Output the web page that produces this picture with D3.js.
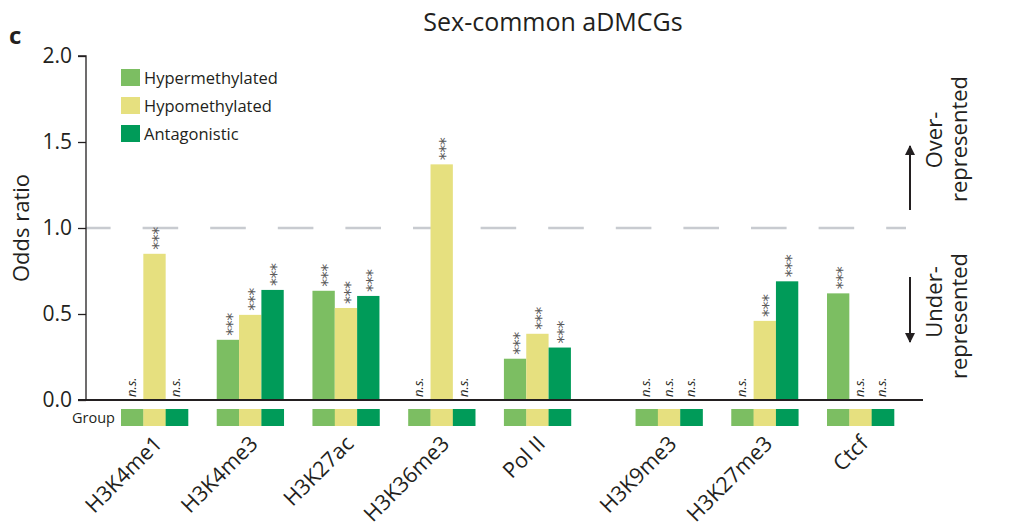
<!DOCTYPE html>
<html>
<head>
<meta charset="utf-8">
<script src="https://cdn.jsdelivr.net/npm/d3@7"></script>
<style>
  html, body { margin: 0; padding: 0; background: #fff; }
  svg { display: block; font-family: "Open Sans", "Noto Sans", sans-serif; }
</style>
</head>
<body>
<svg id="chart" width="1025" height="527"></svg>
<script>
// ---------------- data ----------------
const categories = ["H3K4me1", "H3K4me3", "H3K27ac", "H3K36me3", "Pol II", "H3K9me3", "H3K27me3", "Ctcf"];
const seriesNames = ["Hypermethylated", "Hypomethylated", "Antagonistic"];
// odds ratios (null = n.s., drawn as no bar)
const hyperValues = [null, 0.35, 0.635, null, 0.24, null, null, 0.62];
const hypoValues  = [0.85, 0.495, 0.535, 1.37, 0.385, null, 0.46, null];
const antaValues  = [null, 0.64, 0.605, null, 0.305, null, 0.69, null];
// significance labels
const hyperSig = ["n.s.", "***", "***", "n.s.", "***", "n.s.", "n.s.", "***"];
const hypoSig  = ["***", "***", "***", "***", "***", "n.s.", "***", "n.s."];
const antaSig  = ["n.s.", "***", "***", "n.s.", "***", "n.s.", "***", "n.s."];
const yTicks = [0.0, 0.5, 1.0, 1.5, 2.0];
const referenceLine = 1.0;
const titleText = "Sex-common aDMCGs";
const yLabelText = "Odds ratio";
const panelLetter = "c";
const groupLabel = "Group";

// ---------------- layout ----------------
const colors = { "Hypermethylated": "#7cbe62", "Hypomethylated": "#e6e07f", "Antagonistic": "#009b59" };
const ink = "#231f20";
const svg = d3.select("#chart");

const gapAfter = 4;        // extra gap after "Pol II"
const gapSize = 0.375;
const slot = i => i + (i > gapAfter ? gapSize : 0);

const x = d3.scaleLinear().domain([0, slot(categories.length - 1)]).range([154.5, 860.5]);
const sub = d3.scaleBand().domain(seriesNames).range([-33.5, 33.5]).padding(0);
const y = d3.scaleLinear().domain([0, 2]).range([400, 56]);

const seriesData = [
  { name: "Hypermethylated", values: hyperValues, sig: hyperSig },
  { name: "Hypomethylated", values: hypoValues, sig: hypoSig },
  { name: "Antagonistic", values: antaValues, sig: antaSig }
];

// dashed reference line
svg.append("line")
  .attr("x1", 86).attr("x2", 906)
  .attr("y1", y(referenceLine)).attr("y2", y(referenceLine))
  .attr("stroke", "#c8cbd0").attr("stroke-width", 2.6)
  .attr("stroke-dasharray", "35.6,32").attr("stroke-dashoffset", 11);

// bars
const bw = sub.bandwidth();
seriesData.forEach(s => {
  const g = svg.append("g");
  categories.forEach((c, i) => {
    const v = s.values[i];
    const bx = x(slot(i)) + sub(s.name);
    const cx = bx + bw / 2;
    if (v != null) {
      g.append("rect")
        .attr("x", bx).attr("width", bw)
        .attr("y", y(v)).attr("height", y(0) - y(v))
        .attr("fill", colors[s.name]);
    }
    const lab = s.sig[i];
    if (lab === "***") {
      g.append("text")
        .attr("transform", `translate(${cx},${y(v || 0) - 4}) rotate(-90)`)
        .attr("dy", "0.6em")
        .attr("font-size", 16)
        .attr("letter-spacing", -0.5)
        .attr("fill", "#5a5a5a")
        .attr("font-family", "DejaVu Sans")
        .text("***");
    } else {
      g.append("text")
        .attr("transform", `translate(${cx + 3.5},${y(0) - 3}) rotate(-90)`)
        .attr("font-size", 13)
        .attr("font-style", "italic")
        .attr("fill", ink)
        .text("n.s.");
    }
    // group colour strip
    svg.append("rect")
      .attr("x", bx).attr("width", bw + 0.3)
      .attr("y", 409).attr("height", 17)
      .attr("fill", colors[s.name]);
  });
});

// baseline
svg.append("line")
  .attr("x1", 78).attr("x2", 923)
  .attr("y1", y(0)).attr("y2", y(0))
  .attr("stroke", ink).attr("stroke-width", 2.2);

// y axis
const yAxis = d3.axisLeft(y).tickValues(yTicks).tickFormat(d3.format(".1f")).tickSize(8).tickPadding(6);
const ya = svg.append("g").attr("transform", "translate(86,0)").call(yAxis);
ya.select(".domain").attr("stroke", ink).attr("stroke-width", 1.3).attr("d", `M-8,${y(2)}H0V${y(0)}`);
ya.selectAll(".tick line").attr("stroke", ink).attr("stroke-width", 1.3);
ya.selectAll(".tick text").attr("font-size", 21).attr("fill", ink).attr("font-family", "Open Sans");

// y label
svg.append("text")
  .attr("transform", `translate(29,${y(1)}) rotate(-90)`)
  .attr("text-anchor", "middle")
  .attr("font-size", 22).attr("fill", ink)
  .text(yLabelText);

// title
svg.append("text")
  .attr("x", 553).attr("y", 31)
  .attr("text-anchor", "middle")
  .attr("font-size", 25).attr("fill", ink)
  .text(titleText);

// panel letter
svg.append("text")
  .attr("x", 9).attr("y", 44)
  .attr("font-size", 24).attr("font-weight", "bold").attr("fill", ink)
  .text(panelLetter);

// legend
seriesNames.forEach((n, i) => {
  const ly = 69 + i * 28;
  svg.append("rect").attr("x", 121).attr("y", ly).attr("width", 19).attr("height", 17).attr("fill", colors[n]);
  svg.append("text").attr("x", 144).attr("y", ly + 14.5)
    .attr("font-size", 16.5).attr("fill", ink).text(n);
});

// group label
svg.append("text").attr("x", 115).attr("y", 423)
  .attr("text-anchor", "end").attr("font-size", 14.5).attr("fill", ink).text(groupLabel);

// category labels
categories.forEach((c, i) => {
  svg.append("text")
    .attr("transform", `translate(${x(slot(i)) + 9},${445}) rotate(-45)`)
    .attr("text-anchor", "end")
    .attr("font-size", 21.5).attr("fill", ink)
    .text(c);
});

// right annotations
const defs = svg.append("defs");
defs.append("marker").attr("id", "ah").attr("viewBox", "0 0 10 10")
  .attr("refX", 9).attr("refY", 5).attr("markerWidth", 10).attr("markerHeight", 10)
  .attr("markerUnits", "userSpaceOnUse").attr("orient", "auto")
  .append("path").attr("d", "M0,0L10,5L0,10Z").attr("fill", ink);

svg.append("line").attr("x1", 910).attr("x2", 910).attr("y1", 210).attr("y2", 146)
  .attr("stroke", ink).attr("stroke-width", 2).attr("marker-end", "url(#ah)");
svg.append("line").attr("x1", 910).attr("x2", 910).attr("y1", 277).attr("y2", 342)
  .attr("stroke", ink).attr("stroke-width", 2).attr("marker-end", "url(#ah)");

function vtext(tx, ty, t) {
  svg.append("text").attr("transform", `translate(${tx},${ty}) rotate(-90)`)
    .attr("text-anchor", "middle").attr("font-size", 22).attr("fill", ink).text(t);
}
vtext(942, 140, "Over-");
vtext(967, 139, "represented");
vtext(942, 302, "Under-");
vtext(967, 316, "represented");
</script>
</body>
</html>
